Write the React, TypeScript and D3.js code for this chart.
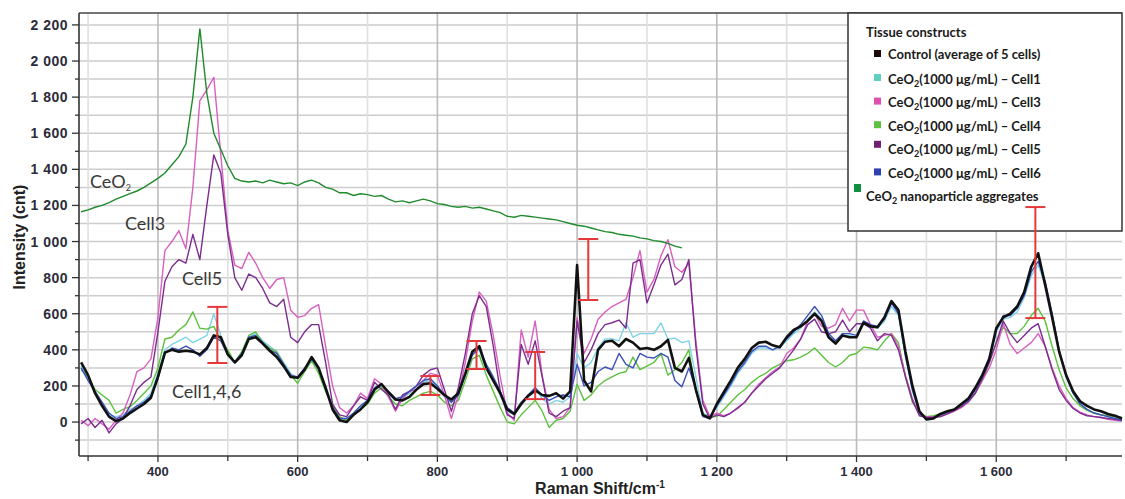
import React from 'react';
import * as d3 from 'd3';

// Raman shift sampling grid (cm-1)
const shifts = d3.range(290, 1790, 10);
const ceo2Shifts = d3.range(290, 1160, 10);

// Intensity readings (cnt), one value per grid point
const control = [
  330, 260, 160, 90, 30, 5, 20, 50, 75, 100,
  135, 250, 385, 400, 390, 395, 390, 375, 410, 480,
  470, 375, 330, 370, 460, 470, 435, 395, 360, 310,
  250, 245, 290, 360, 300, 190, 70, 10, 0, 40,
  70, 110, 180, 210, 165, 125, 120, 140, 180, 210,
  215, 185, 150, 125, 160, 270, 390, 420, 300, 230,
  160, 70, 45, 100, 145, 175, 150, 145, 160, 130,
  170, 870, 230, 170, 400, 445, 450, 420, 460, 440,
  405, 410, 400, 420, 455, 300, 280, 355, 180, 40,
  20, 100, 165, 230, 300, 350, 410, 440, 445, 425,
  415, 470, 510, 530, 560, 600, 560, 470, 435, 480,
  470, 470, 550, 530, 525, 580, 670, 620, 390, 200,
  60, 15, 20, 45, 60, 70, 100, 130, 190, 260,
  350, 520, 580, 600, 640, 720, 860, 935, 760, 580,
  390, 260, 170, 115, 90, 70, 60, 45, 35, 20,
];

const cell1 = [
  310, 240, 160, 100, 40, 30, 40, 70, 90, 120,
  160, 270, 400, 430, 450, 470, 440, 460, 480, 600,
  480, 390, 330, 380, 470, 490, 450, 420, 390, 330,
  270, 240, 290, 350, 300, 190, 90, 20, 20, 40,
  80, 120, 180, 200, 160, 120, 130, 160, 200, 220,
  230, 190, 140, 110, 150, 270, 380, 400, 290, 230,
  150, 60, 40, 100, 150, 190, 130, 100, 120, 110,
  140, 380, 300, 330, 410, 460, 460, 450, 550, 470,
  490, 490, 490, 550, 460, 465, 440, 450, 250, 50,
  30, 80, 140, 200, 270, 320, 380, 410, 410, 400,
  410, 450, 490, 520, 570, 610, 570, 480, 440, 480,
  480, 470, 550, 530, 520, 560, 640, 590, 360, 170,
  50, 20, 20, 40, 55, 65, 90, 120, 170, 240,
  330, 500, 570, 580, 610, 690, 810, 870, 760, 590,
  390, 250, 160, 100, 70, 50, 40, 30, 20, 10,
];

const cell3 = [
  10, -20, 20, -10, -40, 10, 50, 150, 280, 300,
  350, 580, 950, 1000, 1060, 960, 1300, 1780, 1840, 1910,
  1480, 1060, 870, 850, 940, 880, 800, 740, 790, 800,
  620, 580, 590, 630, 650, 420, 200, 80, 50, 90,
  160, 130, 240, 210, 140, 60, 130, 170, 180, 230,
  270, 260, 150, 20, 150, 330, 560, 720, 670, 480,
  250, 50, 10, 510, 360, 560, 260, 70, 20, 30,
  80, 580, 380, 460, 570, 610, 640, 660, 680, 800,
  950, 720, 790, 920, 1010, 860, 830, 880, 450, 120,
  30, 50, 35, 50, 75, 110, 160, 210, 245, 280,
  305, 380, 410, 460, 560, 600, 530, 520, 540, 630,
  560, 620, 620, 540, 470, 480, 490, 420, 260, 130,
  40, 30, 30, 30, 45, 60, 80, 110, 160, 230,
  300, 400, 545, 430, 380, 410, 440, 490, 420, 300,
  200, 130, 80, 55, 40, 30, 25, 15, 10, 5,
];

const cell4 = [
  290, 250, 180, 150, 120, 50, 70, 85, 120, 160,
  200, 300, 460, 470, 510, 540, 610, 520, 515, 530,
  450, 400, 330, 390, 480, 500, 440, 410, 390, 320,
  260, 215, 280, 340, 270, 170, 90, 30, 10, 40,
  70, 100, 160, 190, 140, 100, 90, 120, 140, 160,
  170, 150, 110, 90, 120, 230, 350, 370, 260, 170,
  80, 0, -10, 40, 80, 120, 60, -30, 10, 20,
  60, 210, 120, 150, 200, 230, 250, 270, 280, 360,
  290, 310, 330, 380, 260, 290, 330, 400, 170, 40,
  30, 30, 70, 110, 150, 180, 220, 250, 270, 300,
  320, 340, 345, 360, 380, 410, 370, 330, 305, 330,
  370, 380, 415, 410, 400, 450, 490, 440, 250, 110,
  50, 30, 35, 45, 55, 70, 85, 110, 160, 230,
  330, 440, 525, 490, 490, 530, 590, 630, 560, 420,
  290, 190, 130, 90, 65, 50, 40, 35, 30, 25,
];

const cell5 = [
  -10, 20, -30, 10, -60, -10, 20, 90, 180, 220,
  250, 500, 780, 860, 900, 880, 1040, 900, 1200, 1480,
  1380, 1040, 800, 730, 820, 800, 740, 660, 640, 680,
  470, 440, 500, 540, 540, 330, 100, 40, 30, 90,
  140, 120, 220, 180, 150, 70, 150, 170, 200, 260,
  290, 300, 180, 60, 190, 380, 600, 700, 640, 420,
  170, 40, 20, 430, 320, 450, 250, 50, 30, 60,
  80, 560, 330, 400, 490, 540, 550, 565, 520, 880,
  900, 660, 760, 870, 930, 760, 790, 900, 420, 100,
  20, 40, 30, 50, 80, 110, 160, 200, 240, 270,
  300, 350, 400, 460, 540, 570, 500, 490, 500, 565,
  500, 545, 545, 520, 450, 490, 480, 400, 250, 120,
  35, 25, 25, 30, 45, 65, 85, 115, 160, 240,
  330, 440, 560, 490, 440, 480, 520, 545, 420, 290,
  180, 120, 75, 50, 35, 30, 25, 20, 15, 10,
];

const cell6 = [
  300, 230, 170, 110, 50, 20, 30, 60, 90, 110,
  145, 240, 380, 410, 400, 420, 400, 365, 400, 470,
  450, 370, 335, 380, 470, 480, 440, 400, 380, 320,
  260, 250, 300, 350, 290, 180, 80, 20, 20, 50,
  90, 120, 190, 210, 170, 130, 140, 170, 200, 230,
  240, 200, 150, 110, 150, 260, 370, 410, 320, 250,
  170, 80, 50, 110, 150, 190, 150, 120, 140, 150,
  140, 320, 200, 220, 280, 305, 290, 380, 320, 300,
  380, 360, 355, 380, 360, 230, 195, 300, 180, 30,
  20, 90, 150, 210, 280, 330, 390, 420, 420, 400,
  420, 460, 500, 540, 590, 640, 590, 490, 450, 490,
  490, 480, 560, 540, 530, 570, 660, 600, 370, 180,
  50, 15, 20, 40, 55, 70, 95, 120, 180, 250,
  340, 510, 590, 590, 630, 700, 830, 890, 780, 600,
  400, 260, 160, 100, 70, 50, 40, 30, 20, 10,
];

const ceo2Aggregates = [
  1165, 1175, 1190, 1200, 1215, 1235, 1250, 1265, 1280, 1300,
  1325, 1350, 1380, 1425, 1470, 1540, 1800, 2180, 1820, 1600,
  1510, 1420, 1350, 1335, 1330, 1335, 1325, 1340, 1330, 1320,
  1325, 1310, 1330, 1340, 1325, 1300, 1290, 1270, 1270, 1255,
  1265, 1260, 1250, 1255, 1235, 1220, 1225, 1215, 1225, 1235,
  1225, 1210, 1205, 1195, 1190, 1195, 1185, 1190, 1180, 1170,
  1160, 1140, 1135, 1145, 1140, 1135, 1130, 1125, 1120, 1110,
  1100, 1090, 1085, 1075, 1065, 1055, 1050, 1040, 1035, 1030,
  1020, 1015, 1005, 1000, 990, 975, 965,
];

// Red range bars
const barShifts = [485, 790, 856, 940, 1016, 1656];
const barLow = [327, 150, 294, 127, 676, 576];
const barHigh = [638, 255, 449, 388, 1014, 1191];

const xTickValues = [400, 600, 800, 1000, 1200, 1400, 1600];
const yTickValues = [0, 200, 400, 600, 800, 1000, 1200, 1400, 1600, 1800, 2000, 2200];

const legendNames = ['Cell1', 'Cell3', 'Cell4', 'Cell5', 'Cell6'];

const series = [
  { key: 'cell1', values: cell1, color: '#7fd3ea', width: 1.4 },
  { key: 'cell4', values: cell4, color: '#5cc23e', width: 1.4 },
  { key: 'cell3', values: cell3, color: '#d95fc0', width: 1.4 },
  { key: 'cell5', values: cell5, color: '#7b2d8e', width: 1.4 },
  { key: 'cell6', values: cell6, color: '#3b4fb8', width: 1.4 },
  { key: 'control', values: control, color: '#111111', width: 2.6 },
];

const legendColors = ['#5fcfc0', '#e050b0', '#60c040', '#702070', '#3040b0'];

const fmt = d3.formatLocale({ decimal: '.', thousands: ' ', grouping: [3], currency: ['', ''] }).format(',');

export default function App() {
  const width = 1125;
  const height = 499;
  const x = d3.scaleLinear().domain([287, 1780]).range([79, 1122]);
  const y = d3.scaleLinear().domain([-188, 2266]).range([456, 13]);

  const line = (xs: number[]) =>
    d3.line<number>().x((_, i) => x(xs[i])).y((d) => y(d));

  const hGrid = d3.range(-100, 2201, 100);
  const vGrid = d3.range(300, 1701, 100);
  const axisFont = '"Liberation Sans", Arial, sans-serif';
  const textFont = 'Lato, "Open Sans", sans-serif';
  const tickColor = '#2c2c3a';

  const sub = (t: string) => (
    <tspan dy={3} fontSize={9}>{t}</tspan>
  );

  return (
    <svg width={width} height={height} style={{ position: 'absolute', left: 0, top: 0, background: '#fff' }}>
      {/* grid */}
      {hGrid.map((v) => (
        <line key={'h' + v} x1={79} x2={1122} y1={y(v)} y2={y(v)} stroke="#cdcdcd" strokeWidth={1.5} />
      ))}
      {vGrid.map((v) => (
        <line key={'v' + v} x1={x(v)} x2={x(v)} y1={13} y2={456}
          stroke={v % 200 === 0 ? '#bcbcbc' : '#e0e0e0'} strokeWidth={1.6} />
      ))}

      {/* series */}
      {series.map((s) => (
        <path key={s.key} d={line(shifts)(s.values) || ''} fill="none" stroke={s.color}
          strokeWidth={s.width} strokeLinejoin="round" />
      ))}
      <path d={line(ceo2Shifts)(ceo2Aggregates) || ''} fill="none" stroke="#1f8a2c" strokeWidth={1.4} />

      {/* frame and axes */}
      <line x1={79} x2={1122} y1={13} y2={13} stroke="#444" strokeWidth={1.5} />
      <line x1={79} x2={79} y1={13} y2={456} stroke="#333" strokeWidth={1.6} />
      <line x1={79} x2={1122} y1={456} y2={456} stroke="#333" strokeWidth={1.6} />

      {hGrid.map((v) => (
        <line key={'yt' + v} x1={v % 200 === 0 ? 72 : 75} x2={79} y1={y(v)} y2={y(v)} stroke="#333" strokeWidth={1.3} />
      ))}
      {yTickValues.map((v) => (
        <text key={'yl' + v} x={68} y={y(v) + 5} textAnchor="end" fontFamily={axisFont}
          fontWeight="bold" fontSize={14} letterSpacing={0.5} fill={tickColor}>{fmt(v)}</text>
      ))}
      {vGrid.map((v) => (
        <line key={'xt' + v} x1={x(v)} x2={x(v)} y1={456} y2={v % 200 === 0 ? 462 : 461} stroke="#333" strokeWidth={1.3} />
      ))}
      {xTickValues.map((v) => (
        <text key={'xl' + v} x={x(v)} y={476} textAnchor="middle" fontFamily={axisFont}
          fontWeight="bold" fontSize={13} fill={tickColor}>{fmt(v)}</text>
      ))}

      <text transform="translate(25,237) rotate(-90)" textAnchor="middle" fontFamily={axisFont}
        fontWeight="bold" fontSize={16} fill="#222">Intensity (cnt)</text>
      <text x={600} y={494} textAnchor="middle" fontFamily={axisFont} fontWeight="bold" fontSize={16} fill="#222">
        Raman Shift/cm<tspan dy={-6} fontSize={10}>-1</tspan>
      </text>

      {/* annotations */}
      <g fontFamily={textFont} fontSize={18} fill="#383838">
        <text x={90} y={188}>CeO{sub('2')}</text>
        <text x={125} y={230}>Cell3</text>
        <text x={182} y={285}>Cell5</text>
        <text x={172} y={398}>Cell1,4,6</text>
      </g>

      {/* legend */}
      <rect x={848} y={13} width={274} height={218} fill="#fff" stroke="#333" strokeWidth={1.5} />
      <g fontFamily={textFont} fontWeight="bold" fontSize={13} fill="#1a1a1a">
        <text x={866} y={37}>Tissue constructs</text>
        <rect x={874} y={50} width={7} height={7} fill="#1a0a0a" />
        <text x={888} y={59}>Control (average of 5 cells)</text>
        {legendNames.map((n, i) => {
          const cy = 79 + i * 23.6;
          return (
            <g key={n}>
              <rect x={874} y={cy - (i === 3 ? 9 : 5)} width={7} height={7} fill={legendColors[i]} />
              <text x={888} y={cy + 4.5}>CeO{sub('2')}<tspan dy={-3}>(1000 μg/mL) – {n}</tspan></text>
            </g>
          );
        })}
        <rect x={854} y={184} width={7} height={8} fill="#109040" />
        <text x={866} y={201}>CeO{sub('2')}<tspan dy={-3}> nanoparticle aggregates</tspan></text>
      </g>

      {/* range bars, drawn over the legend as in the source */}
      {barShifts.map((v, i) => (
        <g key={'b' + i} stroke="#e5383b" strokeWidth={2}>
          <line x1={x(v)} x2={x(v)} y1={y(barLow[i])} y2={y(barHigh[i])} />
          <line x1={x(v) - 10} x2={x(v) + 10} y1={y(barLow[i])} y2={y(barLow[i])} />
          <line x1={x(v) - 10} x2={x(v) + 10} y1={y(barHigh[i])} y2={y(barHigh[i])} />
        </g>
      ))}
    </svg>
  );
}
